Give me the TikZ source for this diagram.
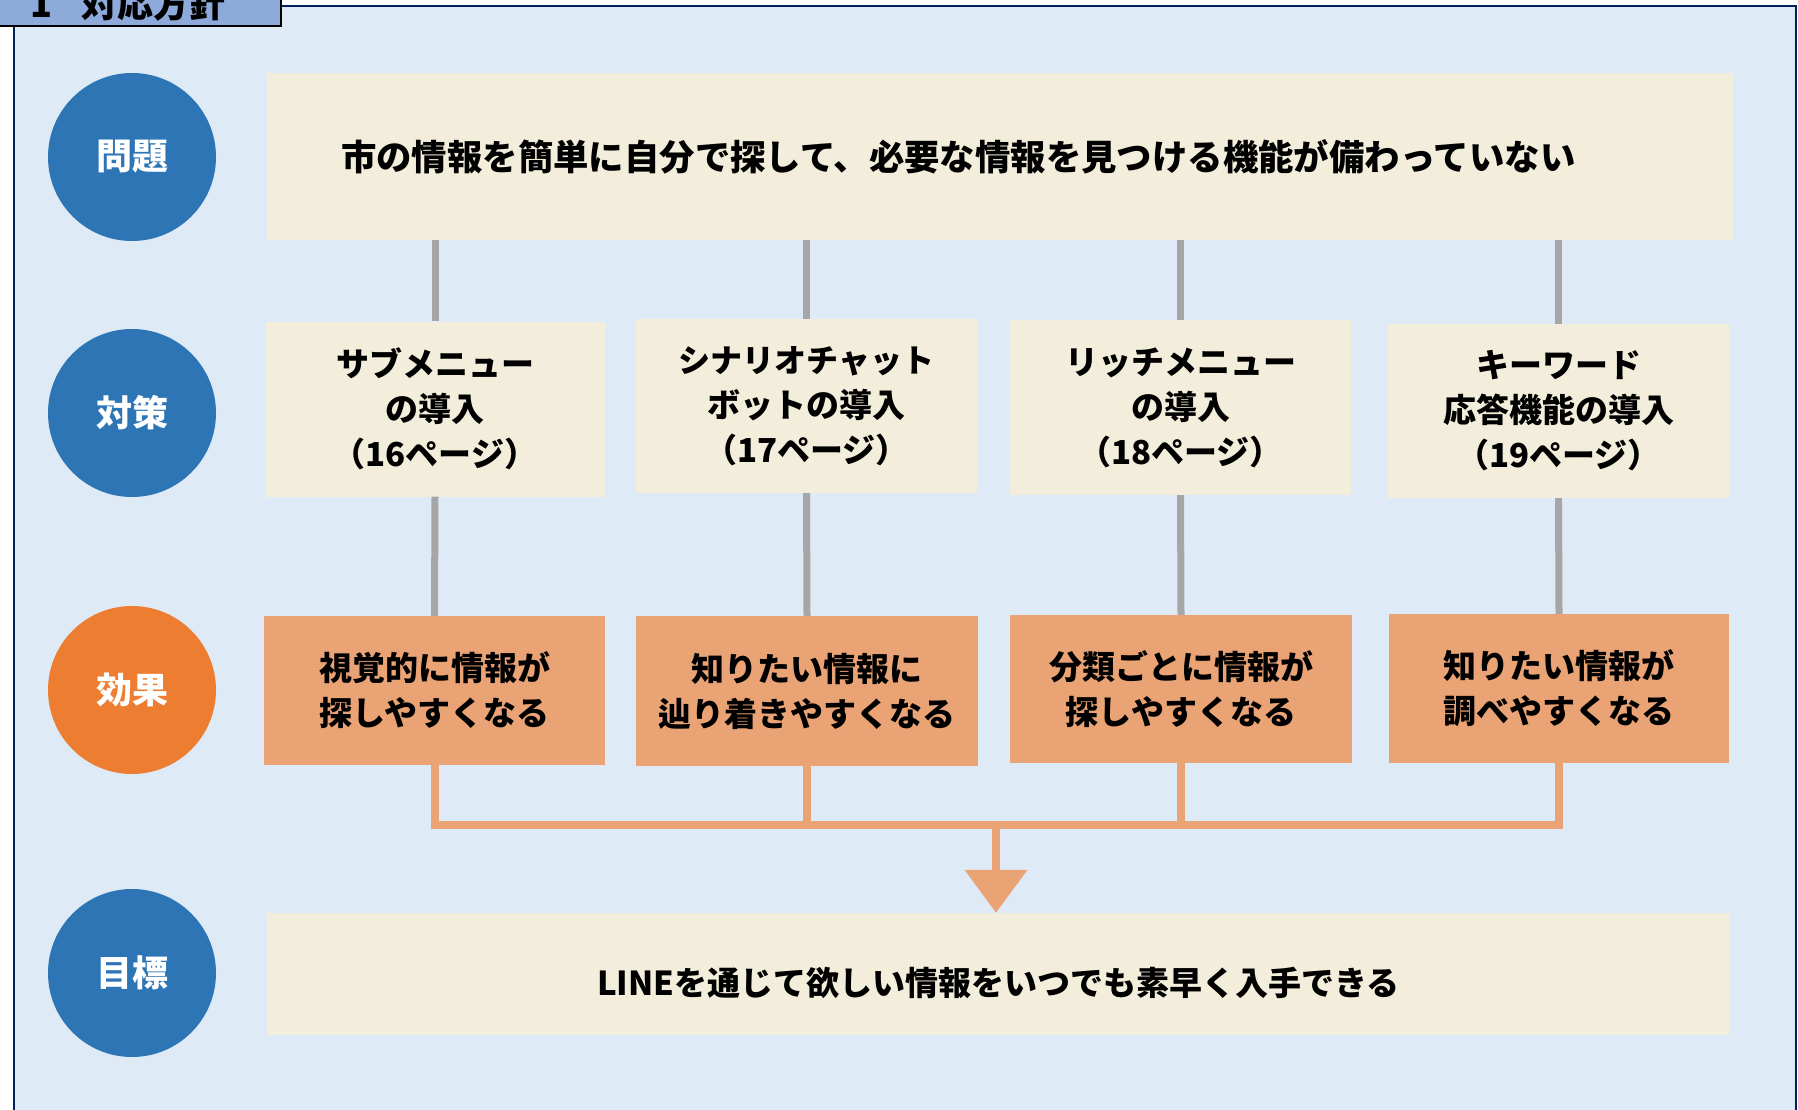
\documentclass[tikz,border=0pt]{standalone}
\usepackage{fontspec}
\setmainfont{Noto Sans CJK JP}
\usetikzlibrary{arrows.meta}
\definecolor{bgblue}{HTML}{DEEAF6}
\definecolor{cream}{HTML}{F3EEDB}
\definecolor{cblue}{HTML}{2E75B6}
\definecolor{corange}{HTML}{ED7D31}
\definecolor{boxorange}{HTML}{E9A374}
\definecolor{lgray}{HTML}{A6A6A6}
\definecolor{navy}{HTML}{002060}
\definecolor{tabblue}{HTML}{8EAADB}
\tikzset{
  circ/.style={circle, minimum size=168pt, inner sep=0pt, text=white, font=\bfseries\fontsize{36}{40}\selectfont},
  creambox/.style={rectangle, fill=cream, inner sep=0pt, align=center, font=\bfseries\fontsize{33}{45}\selectfont},
  effbox/.style={rectangle, fill=boxorange, inner sep=0pt, align=center, font=\bfseries\fontsize{33}{45}\selectfont},
  grayline/.style={draw=lgray, line width=7pt},
  orangeline/.style={draw=boxorange, line width=8pt},
}
\begin{document}
\begin{tikzpicture}[x=1pt, y=-1pt]
\useasboundingbox (0,0) rectangle (1798,1110);
\clip (0,0) rectangle (1798,1110);
% frame
\path[fill=bgblue, draw=navy, line width=2.5pt] (14,6) rectangle (1796,1140);
% title tab
\node[draw=black, line width=1.5pt, fill=tabblue, rectangle, minimum width=300pt, minimum height=70pt, inner sep=0pt] (tab) at (131,-9) {};
\node[anchor=base, font=\bfseries\fontsize{36}{40}\selectfont, inner sep=0pt] (tabnum) at (41,18) {1};
\node[anchor=base west, font=\bfseries\fontsize{36}{40}\selectfont, inner sep=0pt] (tabtext) at (81,18) {対応方針};
% circles
\node[circ, fill=cblue] (c1) at (132,157) {問題};
\node[circ, fill=cblue] (c2) at (132,413) {対策};
\node[circ, fill=corange] (c3) at (132,690) {効果};
\node[circ, fill=cblue] (c4) at (132,973) {目標};
% problem
\node[creambox, minimum width=1466pt, minimum height=167pt, text width=1318pt, align=left, inner xsep=74pt, font=\bfseries\fontsize{35.4}{42}\selectfont] (prob) at (1000,156.5) {市の情報を簡単に自分で探して、必要な情報を見つける機能が備わっていない};
% strategies
\node[creambox, minimum width=340pt, minimum height=175pt] (s1) at (435,409) {サブメニュー\\の導入\\（16ページ）};
\node[creambox, minimum width=341pt, minimum height=174pt] (s2) at (806.5,406) {\fontsize{32}{45}\selectfont シナリオチャット\\ボットの導入\\（17ページ）};
\node[creambox, minimum width=341pt, minimum height=175pt] (s3) at (1180.5,407.5) {リッチメニュー\\の導入\\（18ページ）};
\node[creambox, minimum width=341pt, minimum height=174pt] (s4) at (1558.5,411) {キーワード\\応答機能の導入\\（19ページ）};
% effects
\node[effbox, minimum width=341pt, minimum height=149pt] (e1) at (434.5,690.5) {視覚的に情報が\\探しやすくなる};
\node[effbox, minimum width=342pt, minimum height=150pt] (e2) at (807,691) {知りたい情報に\\辿り着きやすくなる};
\node[effbox, minimum width=342pt, minimum height=148pt] (e3) at (1181,689) {分類ごとに情報が\\探しやすくなる};
\node[effbox, minimum width=340pt, minimum height=149pt] (e4) at (1559,688.5) {知りたい情報が\\調べやすくなる};
% goal
\node[creambox, minimum width=1463pt, minimum height=122pt] (goal) at (998.5,974) {\raisebox{-9pt}[\height][\depth]{LINEを通じて欲しい情報をいつでも素早く入手できる}};
% gray connectors
\foreach \i in {1,2,3,4}{
  \draw[grayline] (prob.south -| s\i.north) -- (s\i.north);
  \draw[grayline] (s\i.south) -- (e\i.north);
}
% orange connectors
\coordinate (hub) at (996,825);
\foreach \i in {1,2,3,4}{
  \draw[orangeline] (e\i.south) -- (e\i.south |- hub);
}
\draw[orangeline, line cap=rect] (e1.south |- hub) -- (e4.south |- hub);
\draw[orangeline, -{Triangle[width=61pt, length=43pt]}] (hub) -- (hub |- goal.north);
\end{tikzpicture}
\end{document}
